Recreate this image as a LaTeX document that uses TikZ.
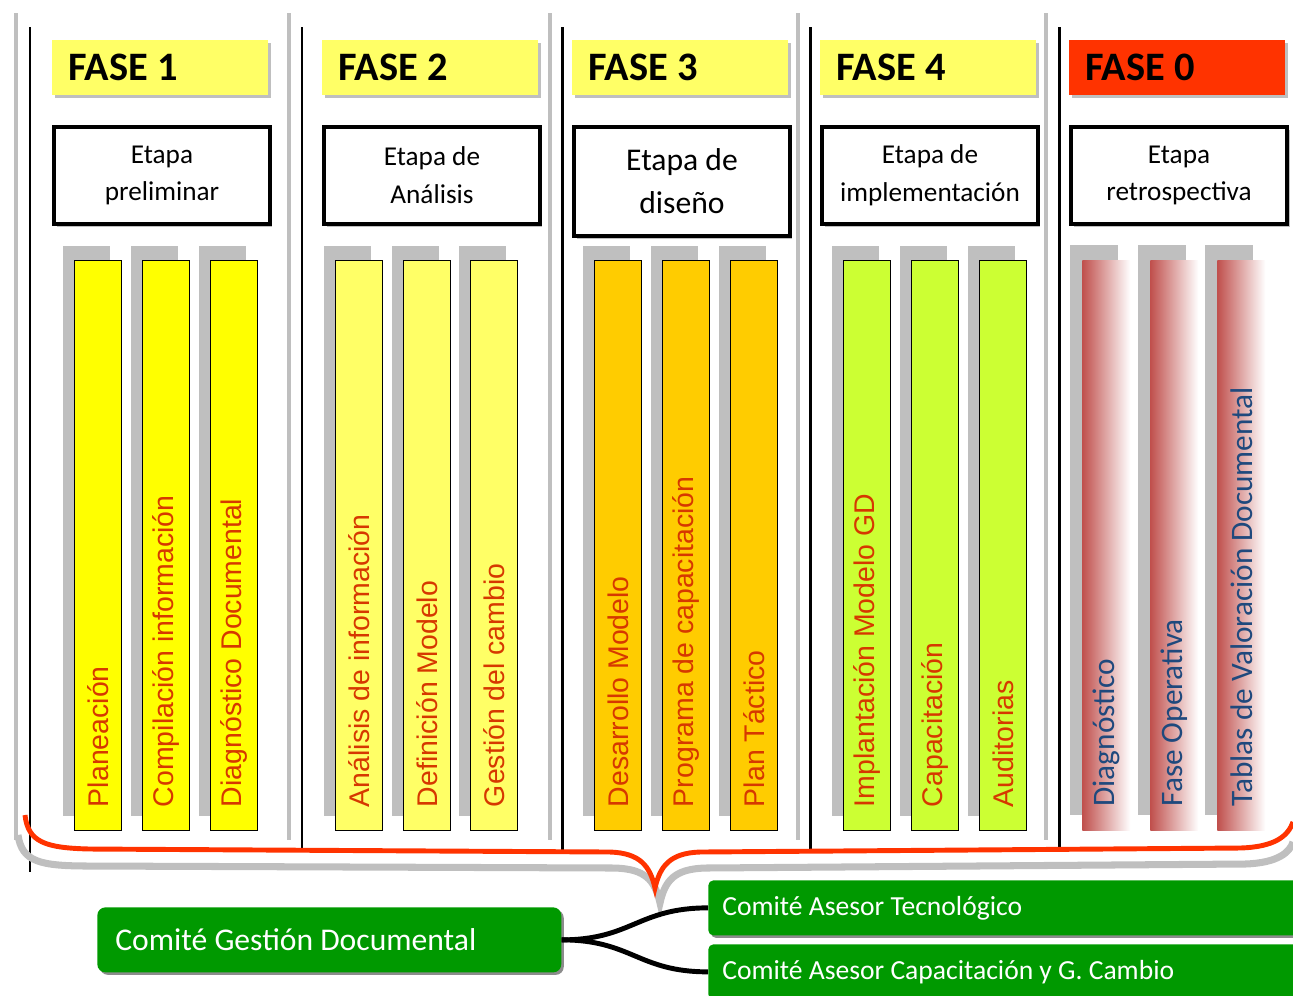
\documentclass[tikz,border=0pt]{standalone}
\usepackage{fontspec}
\setmainfont{Carlito}
\newfontfamily\barfont{Liberation Sans}
\usetikzlibrary{shadows}

\definecolor{faseyellow}{RGB}{255,255,102}
\definecolor{fasered}{RGB}{255,51,0}
\definecolor{shadowgray}{RGB}{191,191,191}
\definecolor{barone}{RGB}{255,255,0}
\definecolor{bartwo}{RGB}{255,255,102}
\definecolor{barthree}{RGB}{255,204,0}
\definecolor{barfour}{RGB}{204,255,51}
\definecolor{barfive}{RGB}{192,80,77}
\definecolor{bartxt}{RGB}{214,56,0}
\definecolor{bartxtblue}{RGB}{31,73,125}
\definecolor{comitegreen}{RGB}{0,153,0}

\begin{document}
\begin{tikzpicture}[x=0.02cm, y=-0.02cm,
  fasebox/.style={anchor=north west, minimum width=4.32cm, minimum height=1.1cm,
    drop shadow={shadow xshift=0.06cm, shadow yshift=-0.06cm, fill=shadowgray, opacity=1}},
  fasetext/.style={anchor=west, inner sep=0pt, font=\fontsize{23}{23}\selectfont\bfseries},
  etapabox/.style={draw, line width=2.3pt, fill=white, anchor=north west,
    minimum width=4.32cm, minimum height=1.94cm, align=center,
    font=\fontsize{15.5}{21.5}\selectfont,
    drop shadow={shadow xshift=0.05cm, shadow yshift=-0.05cm, fill=shadowgray, opacity=1}},
  barbox/.style={draw, line width=0.8pt, anchor=north west, inner sep=0pt,
    minimum width=0.94cm, minimum height=11.4cm,
    drop shadow={shadow xshift=-0.24cm, shadow yshift=0.3cm, fill=shadowgray, opacity=1}},
  fadebox/.style={anchor=north west, inner sep=0pt, left color=barfive, right color=white,
    minimum width=0.96cm, minimum height=11.4cm,
    drop shadow={shadow xshift=-0.24cm, shadow yshift=0.3cm, fill=shadowgray, opacity=1}},
  bartext/.style={rotate=90, anchor=west, text=bartxt, font=\barfont\fontsize{16.2}{16.2}\selectfont},
  bartextblue/.style={rotate=90, anchor=west, text=bartxtblue, font=\fontsize{17.8}{17.8}\selectfont},
  comite/.style={fill=comitegreen, anchor=north west,
    drop shadow={shadow xshift=0.05cm, shadow yshift=-0.05cm, fill=black!45, opacity=1}},
  comitetext/.style={anchor=west, inner sep=0pt, text=white},
  link/.style={line width=2.8pt, black}]

\useasboundingbox (0,0) rectangle (1293,995);

% Column separators
\foreach \g/\b/\e in {16/30/872, 289/302/852, 550/562/852, 798/810/852, 1046/1059/852} {
  \draw[shadowgray, line width=2.3pt] (\g,13) -- (\g,840);
  \draw[black, line width=1.7pt] (\b,27) -- (\b,\e);
}

% Brace (shadow, then red)
\draw[shadowgray, line width=4pt] (18,835) .. controls (22,862) and (40,866) .. (90,866)
  -- (615,868) .. controls (645,869) and (655,880) .. (660,903)
  .. controls (665,880) and (675,869) .. (705,868)
  -- (1245,864) .. controls (1278,863) and (1290,852) .. (1293,842);
\draw[fasered, line width=2.8pt] (25,815) .. controls (28,842) and (45,848) .. (90,849)
  -- (610,852) .. controls (640,853) and (650,866) .. (655,888)
  .. controls (660,866) and (670,853) .. (700,852)
  -- (1240,848) .. controls (1275,847) and (1288,836) .. (1293,822);

% Phase headers
\foreach \n/\x/\c in {1/52/faseyellow, 2/322/faseyellow, 3/572/faseyellow, 4/820/faseyellow, 0/1069/fasered} {
  \node[fasebox, fill=\c] (f\n) at (\x,40) {};
  \node[fasetext] (ft\n) at ([xshift=0.32cm]f\n.west) {FASE \n};
}

% Stages
\node[etapabox] (e1) at (52,125) {Etapa\\preliminar};
\node[etapabox] (e2) at (322,125) {Etapa de\\Análisis};
\node[etapabox, minimum height=2.18cm, font=\fontsize{18}{24.5}\selectfont] (e3) at (572,125) {Etapa de\\diseño};
\node[etapabox] (e4) at (820,125) {Etapa de\\implementación};
\node[etapabox] (e0) at (1069,125) {Etapa\\retrospectiva};

% Bars, phase 1
\foreach \i/\x/\t in {1/74/Planeación, 2/142/Compilación información, 3/210/Diagnóstico Documental} {
  \node[barbox, fill=barone] (b1\i) at (\x,260) {};
  \node[bartext] (t1\i) at ([yshift=0.36cm]b1\i.south) {\t};
}

% Bars, phase 2
\foreach \i/\x/\t in {1/335/Análisis de información, 2/403/Definición Modelo, 3/470/Gestión del cambio} {
  \node[barbox, fill=bartwo] (b2\i) at (\x,260) {};
  \node[bartext] (t2\i) at ([yshift=0.36cm]b2\i.south) {\t};
}

% Bars, phase 3
\foreach \i/\x/\t in {1/594/Desarrollo Modelo, 2/662/Programa de capacitación, 3/730/Plan Táctico} {
  \node[barbox, fill=barthree] (b3\i) at (\x,260) {};
  \node[bartext] (t3\i) at ([yshift=0.36cm]b3\i.south) {\t};
}

% Bars, phase 4
\foreach \i/\x/\t in {1/843/Implantación Modelo GD, 2/911/Capacitación, 3/979/Auditorias} {
  \node[barbox, fill=barfour] (b4\i) at (\x,260) {};
  \node[bartext] (t4\i) at ([yshift=0.36cm]b4\i.south) {\t};
}

% Bars, phase 0
\foreach \i/\x/\t in {1/1082/Diagnóstico, 2/1150/Fase Operativa, 3/1217/Tablas de Valoración Documental} {
  \node[fadebox] (b0\i) at (\x,260) {};
  \node[bartextblue] (t0\i) at ([yshift=0.36cm]b0\i.south) {\t};
}

% Committees
\node[comite, rounded corners=0.16cm, minimum width=9.28cm, minimum height=1.3cm] (cgd) at (97,907) {};
\node[comitetext, font=\fontsize{18}{18}\selectfont] (cgdt) at ([xshift=0.36cm]cgd.west) {Comité Gestión Documental};
\node[comite, rounded corners=0.1cm, minimum width=12cm, minimum height=1.1cm] (cat) at (708,880) {};
\node[comitetext, font=\fontsize{15.7}{15.7}\selectfont] (catt) at ([xshift=0.28cm]cat.west) {Comité Asesor Tecnológico};
\node[comite, rounded corners=0.1cm, minimum width=12cm, minimum height=1.1cm] (cac) at (708,944) {};
\node[comitetext, font=\fontsize{15.7}{15.7}\selectfont] (cact) at ([xshift=0.28cm]cac.west) {Comité Asesor Capacitación y G. Cambio};

\draw[link] (cgd.east) .. controls +(70,0) and +(-70,0) .. (cat.west);
\draw[link] (cgd.east) .. controls +(70,0) and +(-70,0) .. (cac.west);

\end{tikzpicture}
\end{document}
